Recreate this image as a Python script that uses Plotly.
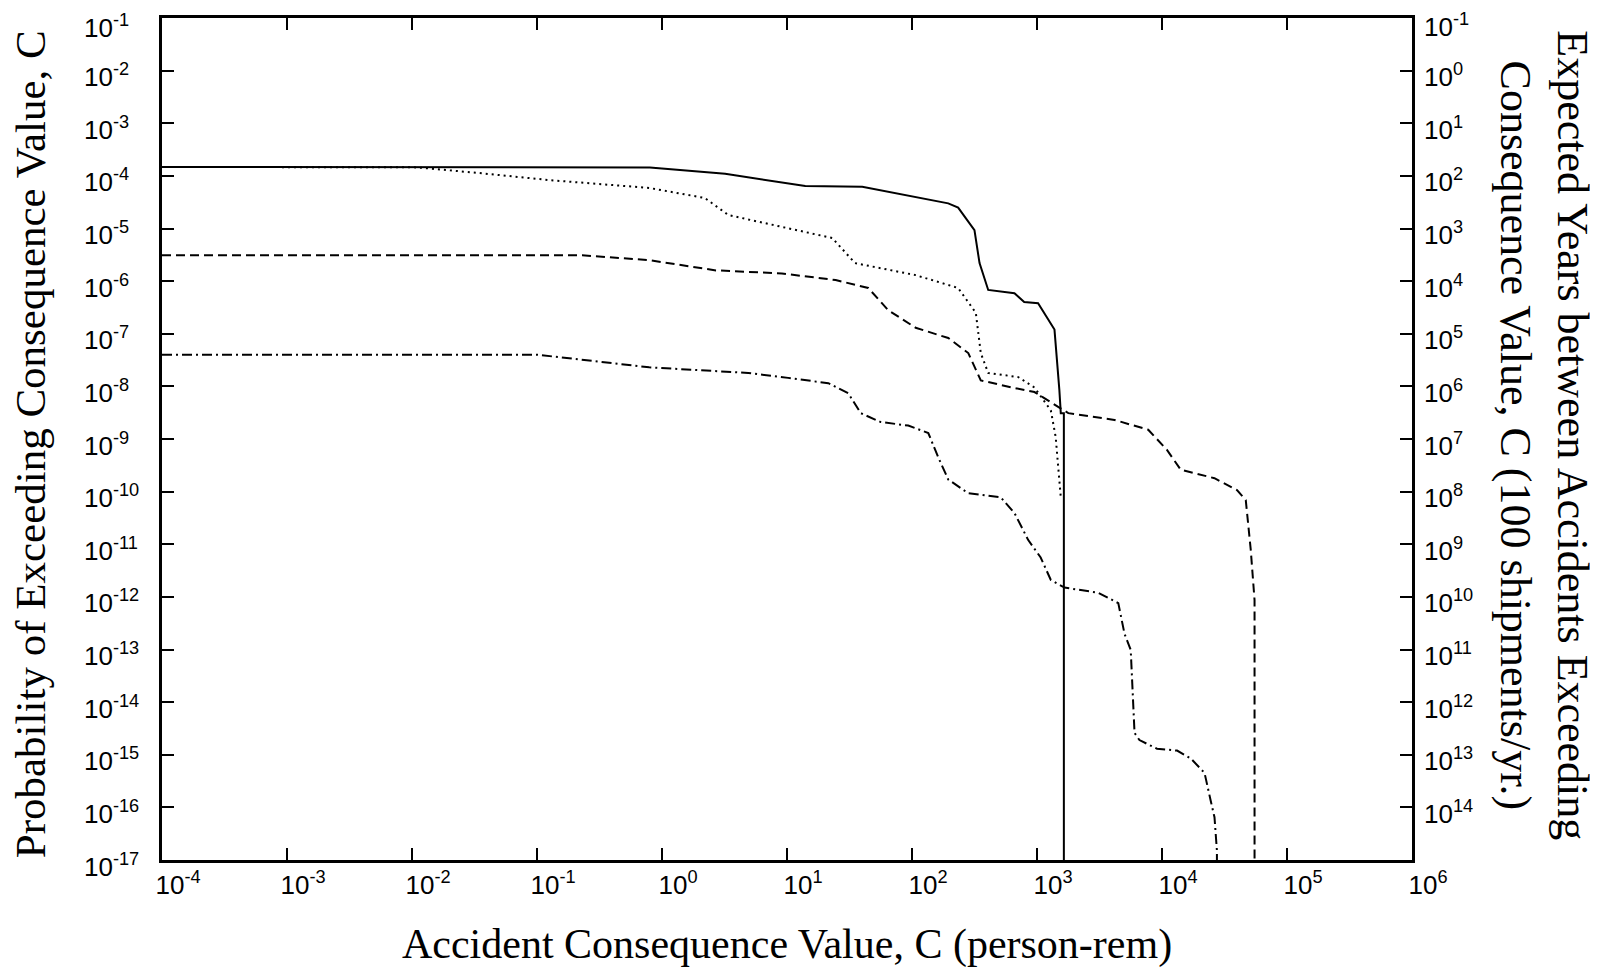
import plotly.graph_objects as go

# curves (x: person-rem, y: probability of exceedance)
solid_x = [1e-4, 1e-2, 0.8, 3.2, 14, 40, 107, 195, 234, 316, 347, 407, 660, 790, 1020, 1380, 1510, 1550, 1640, 1640]
solid_y = [1.48e-4, 1.48e-4, 1.45e-4, 1.1e-4, 6.4e-5, 6.2e-5, 4.0e-5, 3.0e-5, 2.5e-5, 9.3e-6, 2.2e-6,
           6.8e-7, 5.9e-7, 4.0e-7, 3.8e-7, 1.2e-7, 8.5e-9, 3.1e-9, 3.1e-9, 1e-17]

dotted_x = [1e-4, 0.011, 0.036, 0.126, 0.79, 2.2, 3.4, 9.1, 23, 35, 107, 234, 324, 355, 407, 708, 955,
            1290, 1410, 1550]
dotted_y = [1.48e-4, 1.45e-4, 1.12e-4, 8.3e-5, 5.9e-5, 3.8e-5, 1.8e-5, 1.07e-5, 6.6e-6, 2.2e-6, 1.3e-6,
            7.4e-7, 2.5e-7, 4.3e-8, 1.8e-8, 1.5e-8, 9.5e-9, 3.5e-9, 1.1e-9, 7.8e-11]

dashed_x = [1e-4, 0.23, 0.79, 2.7, 9.1, 24.5, 44.7, 64.6, 107, 195, 282, 355, 661, 955, 1780, 4170,
            7760, 10960, 14130, 26300, 39800, 46800, 51300, 55000, 55000]
dashed_y = [3.1e-6, 3.1e-6, 2.5e-6, 1.6e-6, 1.4e-6, 1.05e-6, 7.4e-7, 2.8e-7, 1.3e-7, 8.3e-8, 4.3e-8,
            1.3e-8, 9.3e-9, 7.8e-9, 3.1e-9, 2.3e-9, 1.5e-9, 6.2e-10, 2.6e-10, 1.8e-10, 1.07e-10,
            6.9e-11, 7.8e-12, 8.7e-13, 1e-17]

dashdot_x = [1e-4, 0.1, 0.79, 4.9, 10.2, 21.4, 30.9, 38.9, 56.2, 93.3, 135, 162, 195, 282, 513, 661,
             851, 1070, 1290, 1660, 3090, 4470, 5010, 5620, 6030, 6600, 9120, 13200, 17000, 21900,
             24500, 26300, 27500, 27500]
dashdot_y = [4.0e-8, 4.0e-8, 2.3e-8, 1.8e-8, 1.45e-8, 1.15e-8, 7.4e-9, 3.1e-9, 2.1e-9, 1.8e-9, 1.3e-9,
             4.5e-10, 1.7e-10, 9.3e-11, 7.8e-11, 3.9e-11, 1.2e-11, 5.6e-12, 2.1e-12, 1.5e-12, 1.2e-12,
             7.6e-13, 2.0e-13, 9.8e-14, 2.6e-15, 1.9e-15, 1.3e-15, 1.2e-15, 8.5e-16, 4.5e-16, 1.35e-16,
             6.5e-17, 1.5e-17, 1e-17]

# axis ticks (powers of ten)
x_exps = [-4, -3, -2, -1, 0, 1, 2, 3, 4, 5, 6]
y_exps = [-1, -2, -3, -4, -5, -6, -7, -8, -9, -10, -11, -12, -13, -14, -15, -16, -17]
# right axis: expected years between accidents (100 shipments/yr), one per left tick from 10^-1 down
years_exps = [-1, 0, 1, 2, 3, 4, 5, 6, 7, 8, 9, 10, 11, 12, 13, 14]

SANS = "Liberation Sans, Arial, sans-serif"
SERIF = "Liberation Serif, Times New Roman, serif"
TICK_SIZE = 26

fig = go.Figure()

curves = [
    (solid_x, solid_y, "solid"),
    (dotted_x, dotted_y, "2px,4px"),
    (dashed_x, dashed_y, "9px,5px"),
    (dashdot_x, dashdot_y, "10px,4px,2px,4px"),
]
for xs, ys, dash in curves:
    fig.add_trace(go.Scatter(x=xs, y=ys, mode="lines", showlegend=False,
                             line=dict(color="black", width=2, dash=dash)))

# y tick labels are left-aligned in the original on both sides -> annotations on the y scale
annotations = []
for e in y_exps:
    annotations.append(dict(text=f"10<sup>{e}</sup>", xref="paper", yref="y", x=-0.064, y=e,
                            xanchor="left", yanchor="middle", showarrow=False,
                            yshift=-8 if e == -1 else -5,
                            font=dict(family=SANS, size=TICK_SIZE, color="black")))
for e, yrs in zip(y_exps, years_exps):
    annotations.append(dict(text=f"10<sup>{yrs}</sup>", xref="paper", yref="y", x=1.008, y=e,
                            xanchor="left", yanchor="middle", showarrow=False,
                            yshift=-7 if e == -1 else -5,
                            font=dict(family=SANS, size=TICK_SIZE, color="black")))

annotations += [
    dict(text="Accident Consequence Value, C (person-rem)", xref="paper", yref="paper",
         x=0.5, y=-0.1, xanchor="center", yanchor="middle", showarrow=False,
         font=dict(family=SERIF, size=42, color="black")),
    dict(text="Probability of Exceeding Consequence Value, C", xref="paper", yref="paper",
         x=-0.105, y=0.4935, xanchor="center", yanchor="middle", textangle=-90, showarrow=False,
         font=dict(family=SERIF, size=43, color="black")),
    dict(text="Expected Years between Accidents Exceeding<br>Consequence Value, C (100 shipments/yr.)",
         xref="paper", yref="paper", x=1.106, y=0.505, xanchor="center", yanchor="middle",
         textangle=90, align="center", showarrow=False,
         font=dict(family=SERIF, size=44, color="black")),
]

# the page puts the figure 8px in from the corner, so the figure is 8px smaller
fig.update_layout(
    width=1590, height=959,
    margin=dict(l=154, r=186, t=10, b=107),
    paper_bgcolor="white", plot_bgcolor="white",
    xaxis=dict(
        type="log", range=[-4, 6], automargin=False,
        tickvals=[10.0 ** e for e in x_exps],
        ticktext=[f"10<sup>{e}</sup>" for e in x_exps],
        ticks="inside", ticklen=12, tickwidth=2, tickcolor="black",
        showline=True, linewidth=3, linecolor="black", mirror="ticks",
        showgrid=False, zeroline=False,
        tickfont=dict(family=SANS, size=TICK_SIZE, color="black"),
        ticklabelstandoff=0, ticklabelshift=16, ticklabeloverflow="allow",
    ),
    yaxis=dict(
        type="log", range=[-17, -1], automargin=False,
        tickvals=[10.0 ** e for e in y_exps],
        ticks="inside", ticklen=12, tickwidth=2, tickcolor="black",
        showline=True, linewidth=3, linecolor="black", mirror="ticks",
        showticklabels=False, showgrid=False, zeroline=False,
    ),
    annotations=annotations,
)

fig.write_html("out.html")
